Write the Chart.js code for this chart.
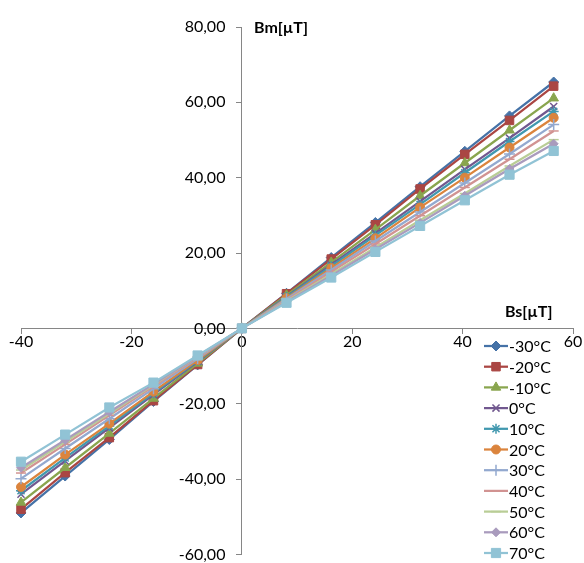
<!DOCTYPE html>
<html>
<head>
<meta charset="utf-8">
<script src="https://cdn.jsdelivr.net/npm/chart.js@4/dist/chart.umd.min.js"></script>
<style>
  body { margin: 0; background: #fff; }
  #wrap { width: 584px; height: 563px; overflow: hidden; }
</style>
</head>
<body>
<div id="wrap"><canvas id="bmChart" width="584" height="576"></canvas></div>
<script>
// Bs values (x) shared by all series
const bsValues = [-40, -32, -24, -16, -8, 0, 8.1, 16.2, 24.2, 32.3, 40.4, 48.5, 56.5];

// Bm values per temperature
const temps = ["-30°C", "-20°C", "-10°C", "0°C", "10°C", "20°C", "30°C", "40°C", "50°C", "60°C", "70°C"];
const bmM30 = [-49.0, -39.2, -29.5, -19.4, -9.7, 0, 9.3, 18.8, 28.1, 37.6, 47.0, 56.4, 65.4];
const bmM20 = [-48.0, -38.3, -29.0, -19.2, -9.6, 0, 9.2, 18.4, 27.5, 37.0, 46.2, 55.2, 64.3];
const bmM10 = [-46.2, -37.0, -27.9, -18.6, -9.3, 0, 8.8, 17.5, 26.2, 35.2, 43.9, 52.6, 61.1];
const bm0 = [-44.0, -35.2, -26.4, -17.6, -8.8, 0, 8.4, 16.9, 25.2, 33.7, 42.2, 50.5, 58.9];
const bm10 = [-43.1, -34.4, -25.9, -17.2, -8.6, 0, 8.3, 16.5, 24.7, 32.9, 41.3, 49.6, 57.6];
const bm20 = [-42.1, -33.5, -25.3, -16.8, -8.4, 0, 8.0, 16.0, 23.9, 32.1, 40.0, 48.0, 55.9];
const bm30 = [-39.9, -31.9, -24.0, -16.0, -8.0, 0, 7.8, 15.5, 23.2, 30.9, 38.6, 46.3, 54.1];
const bm40 = [-38.4, -30.8, -23.1, -15.4, -7.7, 0, 7.5, 15.0, 22.4, 29.9, 37.4, 44.9, 52.4];
const bm50 = [-37.6, -30.1, -22.6, -15.0, -7.5, 0, 7.2, 14.4, 21.5, 28.7, 35.8, 43.1, 50.1];
const bm60 = [-37.0, -29.6, -22.2, -14.8, -7.4, 0, 7.0, 14.0, 21.0, 28.0, 35.2, 42.3, 49.0];
const bm70 = [-35.4, -28.2, -21.0, -14.4, -7.2, 0, 6.8, 13.5, 20.3, 27.2, 34.0, 40.8, 47.1];

const xTicks = [-40, -20, 0, 20, 40, 60];
const yTicks = [-60, -40, -20, 0, 20, 40, 60, 80];

const allSeries = [bmM30, bmM20, bmM10, bm0, bm10, bm20, bm30, bm40, bm50, bm60, bm70];
const colors = ["#4572A7", "#AA4643", "#89A54E", "#71588F", "#4198AF", "#DB843D",
                "#93A9CF", "#D19392", "#B9CD96", "#A99BBD", "#91C3D5"];
const markers = [
    { style: "rectRot", r: 5 },
    { style: "rect", r: 6 },
    { style: "triangle", r: 5.5 },
    { style: "crossRot", r: 5 },
    { style: "star", r: 5 },
    { style: "circle", r: 4.5 },
    { style: "cross", r: 5.5 },
    { style: "line", r: 5 },
    { style: "line", r: 5 },
    { style: "rectRot", r: 4.5 },
    { style: "rect", r: 6.5 },
];
const openStyles = ["crossRot", "star", "cross", "line"];

const datasets = allSeries.map((vals, i) => ({
    label: temps[i],
    data: vals.map((v, j) => ({ x: bsValues[j], y: v })),
    showLine: true,
    borderColor: colors[i],
    backgroundColor: colors[i],
    borderWidth: 2.25,
    pointStyle: markers[i].style,
    pointRadius: markers[i].r,
    pointBorderWidth: openStyles.includes(markers[i].style) ? 1.5 : 1,
    pointBorderColor: colors[i],
    pointBackgroundColor: colors[i],
    order: allSeries.length - i,
    clip: false,
}));

// y labels sit right on the axis when it is placed at x=0, so pad them with spaces
const measureCtx = document.createElement("canvas").getContext("2d");
measureCtx.font = "16px Lato";
const spaceW = measureCtx.measureText(" ").width || 4;
const labelGap = " ".repeat(Math.max(1, Math.round(18 / spaceW)));

function fmtComma(v) {
    return v.toFixed(2).replace(".", ",") + labelGap;
}

// axis titles and legend drawn over the plot, like the Excel original
const overlayPlugin = {
    id: "overlay",
    afterDraw(chart) {
        const ctx = chart.ctx;
        ctx.save();
        ctx.fillStyle = "#000";
        ctx.font = "bold 16px Lato";
        ctx.textBaseline = "middle";
        ctx.textAlign = "left";
        ctx.fillText("Bm[µT]", 254, 28);
        ctx.fillText("Bs[µT]", 505, 312);

        ctx.font = "16px Lato";
        temps.forEach((t, i) => {
            const y = 346 + i * 20.7;
            ctx.strokeStyle = colors[i];
            ctx.fillStyle = colors[i];
            ctx.lineWidth = 2.25;
            ctx.beginPath();
            ctx.moveTo(484, y);
            ctx.lineTo(508, y);
            ctx.stroke();
            ctx.lineWidth = openStyles.includes(markers[i].style) ? 1.5 : 1;
            if (Chart.helpers && Chart.helpers.drawPoint) {
                Chart.helpers.drawPoint(ctx, {
                    pointStyle: markers[i].style,
                    radius: markers[i].r,
                    rotation: 0,
                    borderWidth: ctx.lineWidth,
                }, 496, y);
            }
            ctx.fillStyle = "#000";
            ctx.fillText(t, 509, y + 1);
        });
        ctx.restore();
    }
};

const axisColor = "#868686";

new Chart(document.getElementById("bmChart"), {
    type: "scatter",
    data: { datasets: datasets },
    options: {
        responsive: false,
        animation: false,
        layout: { padding: { left: 21, right: 11, top: 27, bottom: 0 } },
        plugins: {
            legend: { display: false },
            tooltip: { enabled: false },
        },
        scales: {
            x: {
                type: "linear",
                position: { y: 0 },
                min: -40,
                max: 60,
                afterBuildTicks: (axis) => { axis.ticks = xTicks.map(v => ({ value: v })); },
                ticks: {
                    color: "#000",
                    font: { family: "Lato", size: 16 },
                    padding: -1,
                    maxRotation: 0,
                    callback: (v) => String(v),
                },
                grid: { display: true, drawOnChartArea: false, drawTicks: true, tickLength: 5, color: axisColor },
                border: { display: true, color: axisColor, width: 1 },
            },
            y: {
                type: "linear",
                position: { x: 0 },
                min: -60,
                max: 80,
                afterBuildTicks: (axis) => { axis.ticks = yTicks.map(v => ({ value: v })); },
                ticks: {
                    color: "#000",
                    font: { family: "Lato", size: 16 },
                    padding: 12,
                    callback: (v) => fmtComma(v),
                },
                grid: { display: true, drawOnChartArea: false, drawTicks: true, tickLength: 5, color: axisColor },
                border: { display: true, color: axisColor, width: 1 },
            },
        },
    },
    plugins: [overlayPlugin],
});
</script>
</body>
</html>
